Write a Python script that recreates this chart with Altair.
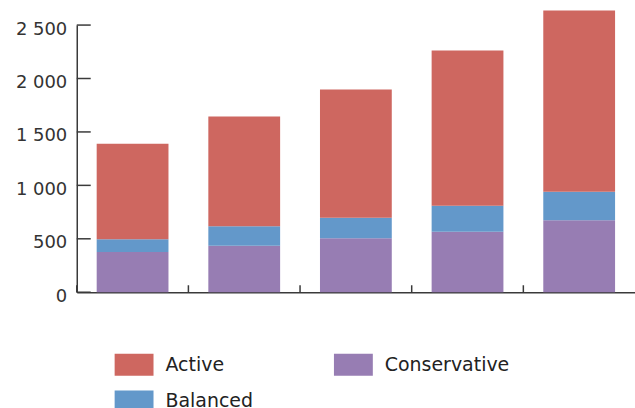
import altair as alt
import pandas as pd

# Five periods, three portfolio profiles stacked per bar
periods = ["P1", "P2", "P3", "P4", "P5"]
conservative = [377, 436, 505, 567, 673]
balanced = [118, 181, 193, 243, 268]
active = [895, 1028, 1199, 1452, 1695]

# legend fills column by column: Active, Balanced | Conservative
series_names = ["Active", "Balanced", "Conservative"]
series_colors = ["#CE6760", "#6398CA", "#977DB3"]
stack_rank = {"Conservative": 0, "Balanced": 1, "Active": 2}

y_ticks = [0, 500, 1000, 1500, 2000, 2500]

rows = []
for i, p in enumerate(periods):
    for name, vals in (("Conservative", conservative), ("Balanced", balanced), ("Active", active)):
        rows.append({"period": p, "series": name, "value": vals[i], "rank": stack_rank[name]})
df = pd.DataFrame(rows)
ticks_df = pd.DataFrame({"v": y_ticks})
bounds_df = pd.DataFrame({"period": periods})

W, H = 560, 268
FONT = "DejaVu Sans"
AXIS_COLOR = "#3a3a3a"

x_scale = alt.Scale(domain=periods, paddingInner=0.357, paddingOuter=0.1785)
y_scale = alt.Scale(domain=[0, 2500], nice=False)

bars = alt.Chart(df).mark_bar().encode(
    x=alt.X("period:N", scale=x_scale, sort=periods,
            axis=alt.Axis(labels=False, ticks=False, title=None, domainColor=AXIS_COLOR,
                          domainWidth=1.5)),
    y=alt.Y("value:Q", stack="zero", scale=y_scale,
            axis=alt.Axis(values=y_ticks, ticks=False, tickSize=0, grid=False, title=None,
                          labelExpr="replace(format(datum.value, ','), ',', ' ')",
                          labelFont=FONT, labelFontSize=18, labelColor="#333333",
                          labelPadding=10, labelOffset=4, domainColor=AXIS_COLOR,
                          domainWidth=1.5)),
    color=alt.Color("series:N", sort=series_names,
                    scale=alt.Scale(domain=series_names, range=series_colors),
                    legend=alt.Legend(title=None, orient="none", legendX=38, legendY=321,
                                      direction="vertical", columns=2, columnPadding=81,
                                      rowPadding=6,
                                      symbolType="M-1,-0.564H1V0.564H-1Z", symbolSize=1521,
                                      symbolStrokeWidth=0, labelOffset=12,
                                      labelFont=FONT, labelFontSize=19, labelColor="#222222",
                                      padding=0)),
    order=alt.Order("rank:Q", sort="ascending"),
)

# inward ticks on the value axis
y_tick_marks = alt.Chart(ticks_df).mark_rule(color=AXIS_COLOR, strokeWidth=1.5).encode(
    y=alt.Y("v:Q", scale=y_scale),
    x=alt.value(0),
    x2=alt.value(14),
)

# upward ticks midway between neighbouring bars
x_tick_marks = alt.Chart(bounds_df).mark_rule(color=AXIS_COLOR, strokeWidth=1.5, xOffset=-20).encode(
    x=alt.X("period:N", scale=x_scale, sort=periods, bandPosition=0),
    y=alt.value(H - 7),
    y2=alt.value(H),
)

chart = alt.layer(bars, y_tick_marks, x_tick_marks).properties(
    width=W, height=H,
    autosize=alt.AutoSizeParams(type="none"),
    padding={"left": 77, "top": 24.5, "right": 0, "bottom": 120},
).configure_view(stroke=None)

chart.save("out.html", embed_options={"renderer": "svg", "actions": False})
